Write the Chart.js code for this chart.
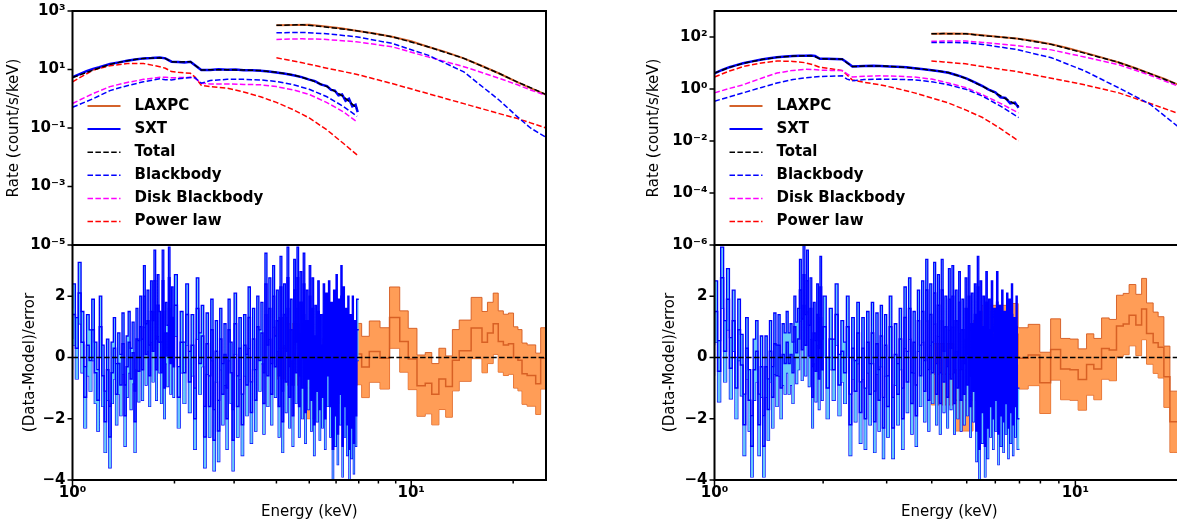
<!DOCTYPE html>
<html>
<head>
<meta charset="utf-8">
<script src="https://cdn.jsdelivr.net/npm/chart.js@4.4.1/dist/chart.umd.min.js"></script>
<style>
html, body { margin: 0; padding: 0; background: #fff; overflow: hidden; width: 1177px; height: 528px; }
canvas { position: absolute; }
</style>
</head>
<body>
<canvas id="leftTop" width="560" height="250" style="left:0px;top:0px"></canvas>
<canvas id="leftBottom" width="560" height="283" style="left:0px;top:245px"></canvas>
<canvas id="rightTop" width="560" height="250" style="left:640px;top:0px"></canvas>
<canvas id="rightBottom" width="560" height="283" style="left:640px;top:245px"></canvas>
<script>
// ---- tick positions ----
var xTicks = [1, 2, 3, 4, 5, 6, 7, 8, 9, 10, 20];
var leftRateTicks = [1e-5, 1e-3, 1e-1, 1e1, 1e3];
var rightRateTicks = [1e-6, 1e-4, 1e-2, 1e0, 1e2];
var residTicks = [-4, -2, 0, 2];

var legendLabels = ['LAXPC', 'SXT', 'Total', 'Blackbody', 'Disk Blackbody', 'Power law'];

// ---- left observation: spectra (keV, count/s/keV) ----
var lSxtE = [1.0, 1.05, 1.1, 1.15, 1.2, 1.29, 1.37, 1.45, 1.53, 1.62, 1.71, 1.81, 1.88, 1.96, 2.05, 2.14, 2.23, 2.30, 2.40, 2.55, 2.7, 2.86, 3.03, 3.2, 3.4, 3.59, 3.8, 4.0, 4.25, 4.49, 4.75, 5.0, 5.2, 5.4, 5.64, 5.8, 5.95, 6.1, 6.25, 6.4, 6.55, 6.7, 6.85, 6.95];
var lSxtRate = [5.5, 7.0, 8.8, 10.5, 12, 15.5, 17.5, 20, 22, 24, 24.5, 25.5, 24, 18.5, 18, 17.5, 18.5, 14, 9.6, 9.7, 10.2, 9.8, 10, 9.5, 9.4, 9.0, 8.6, 7.9, 7.2, 6.4, 5.5, 4.5, 4.0, 3.1, 2.7, 2.0, 1.9, 1.3, 1.4, 0.85, 1.0, 0.55, 0.62, 0.35];
var lSxtModelE = [1.0, 1.15, 1.29, 1.45, 1.62, 1.81, 1.88, 1.96, 2.05, 2.23, 2.30, 2.40, 2.55, 2.86, 3.2, 3.59, 4.0, 4.49, 5.0, 5.64, 6.3, 6.92];
var lSxtTotal = [5.3, 9.5, 15, 20, 24, 25, 24, 18.5, 18, 18.5, 14, 9.6, 9.8, 9.8, 9.6, 9.2, 8.0, 6.5, 4.6, 2.6, 1.2, 0.47];
var lSxtBB = [0.51, 1.0, 1.9, 2.8, 3.8, 4.8, 4.5, 4.4, 4.8, 5.3, 5.2, 3.4, 4.2, 4.6, 4.6, 4.4, 3.9, 3.0, 2.1, 1.17, 0.55, 0.25];
var lSxtDisk = [0.69, 1.5, 2.6, 3.6, 4.6, 5.4, 5.4, 5.2, 5.3, 5.4, 5.0, 3.4, 3.2, 3.2, 3.1, 3.0, 2.6, 2.0, 1.4, 0.74, 0.36, 0.16];
var lSxtPL = [3.8, 9.5, 13.5, 16, 16, 12.5, 11, 8.5, 8.0, 7.4, 5.5, 2.9, 2.6, 2.3, 1.7, 1.17, 0.75, 0.42, 0.22, 0.086, 0.03, 0.012];

var lLaxE = [4.0, 4.5, 5.0, 5.5, 6.2, 6.88, 7.8, 8.78, 10, 11.2, 12.6, 14.3, 16, 18.2, 20.5, 22.5, 25];
var lLaxRate = [325, 333, 338, 300, 255, 213, 170, 132, 92, 60, 40, 24, 14, 7.3, 3.8, 2.3, 1.4];
var lLaxModelE = [4.0, 4.77, 5.5, 6.88, 8.78, 11.2, 14.3, 18.2, 20.6, 22.5, 25];
var lLaxTotal = [325, 338, 290, 213, 132, 60, 24, 7.3, 3.7, 2.4, 1.4];
var lLaxBB = [180, 185, 170, 132, 78, 31, 8.3, 0.89, 0.24, 0.1, 0.048];
var lLaxDisk = [107, 112, 108, 89, 60, 27, 12.5, 5.0, 3.0, 2.0, 1.3];
var lLaxPL = [25, 17, 11.8, 6.9, 3.3, 1.5, 0.68, 0.31, 0.21, 0.15, 0.10];

// ---- right observation: spectra ----
var rSxtE = [1.0, 1.05, 1.1, 1.15, 1.2, 1.28, 1.35, 1.42, 1.49, 1.57, 1.65, 1.72, 1.78, 1.85, 1.90, 1.96, 2.05, 2.15, 2.26, 2.33, 2.41, 2.5, 2.6, 2.75, 2.88, 3.05, 3.2, 3.4, 3.58, 3.8, 4.0, 4.2, 4.45, 4.7, 5.0, 5.25, 5.53, 5.75, 6.0, 6.2, 6.4, 6.6, 6.8, 6.96];
var rSxtRate = [4.0, 5.4, 6.9, 8.3, 9.8, 11.8, 13.6, 15.2, 16.6, 17.6, 18.7, 19.2, 19.2, 19.5, 18.5, 14.6, 14.5, 14.2, 14.0, 10.5, 7.3, 7.5, 7.7, 7.8, 7.7, 7.4, 7.2, 6.8, 6.3, 5.8, 5.3, 4.8, 4.2, 3.4, 2.5, 1.85, 1.3, 0.95, 0.75, 0.48, 0.45, 0.28, 0.30, 0.19];
var rSxtModelE = [1.0, 1.1, 1.2, 1.35, 1.49, 1.65, 1.78, 1.88, 1.96, 2.1, 2.26, 2.33, 2.41, 2.6, 2.88, 3.2, 3.58, 4.0, 4.45, 5.0, 5.53, 6.2, 6.96];
var rSxtTotal = [4.1, 6.8, 9.7, 13.5, 16.5, 18.5, 19, 18.5, 14.5, 14.3, 14, 10, 7.3, 7.6, 7.7, 7.2, 6.3, 5.3, 4.3, 2.5, 1.26, 0.55, 0.22];
var rSxtBB = [0.34, 0.5, 0.71, 1.15, 1.7, 2.3, 2.7, 2.9, 3.0, 3.1, 3.2, 2.4, 2.1, 2.3, 2.4, 2.35, 2.25, 1.9, 1.45, 0.95, 0.53, 0.22, 0.08];
var rSxtDisk = [0.71, 1.05, 1.45, 2.6, 4.1, 5.2, 5.7, 5.6, 5.3, 5.2, 5.1, 3.8, 2.9, 3.1, 3.2, 3.1, 2.9, 2.4, 1.7, 1.1, 0.6, 0.28, 0.12];
var rSxtPL = [2.9, 4.9, 7.3, 10, 12, 11.5, 10.3, 8.5, 6.8, 6.0, 5.1, 3.5, 2.2, 1.8, 1.45, 1.05, 0.71, 0.45, 0.29, 0.15, 0.08, 0.03, 0.010];

var rLaxE = [3.99, 4.5, 5.0, 5.53, 6.2, 6.87, 7.7, 8.58, 9.5, 10.6, 11.8, 13.2, 14.7, 16.1, 17.6, 19.1, 20];
var rLaxRate = [134, 136, 133, 116, 100, 87, 70, 53, 38, 25, 16.5, 10.5, 6.3, 3.9, 2.5, 1.55, 1.3];
var rLaxModelE = [3.99, 4.31, 4.96, 5.53, 6.87, 8.58, 10.6, 13.2, 16.1, 19.1, 20];
var rLaxTotal = [134, 135, 133, 114, 87, 52, 24, 10.5, 3.9, 1.55, 1.3];
var rLaxBB = [61, 62, 60, 52, 33, 16, 5.0, 1.1, 0.26, 0.039, 0.025];
var rLaxDisk = [68, 70, 70, 62, 47, 32, 17, 8.5, 3.4, 1.35, 1.15];
var rLaxPL = [12, 11, 9.3, 7.3, 4.7, 2.6, 1.45, 0.71, 0.28, 0.12, 0.105];

// ---- residuals, (data-model)/error, error bars are +-1 ----
// SXT channel lower edges (keV), shared by both observations
var sxtE = [
  1.00, 1.02, 1.04, 1.06, 1.08, 1.10, 1.12, 1.14, 1.16, 1.18,
  1.20, 1.22, 1.24, 1.26, 1.28, 1.30, 1.32, 1.34, 1.36, 1.38,
  1.40, 1.42, 1.44, 1.46, 1.48, 1.50, 1.52, 1.54, 1.56, 1.58,
  1.60, 1.62, 1.64, 1.66, 1.68, 1.70, 1.72, 1.74, 1.76, 1.78,
  1.80, 1.82, 1.84, 1.86, 1.88, 1.90, 1.92, 1.94, 1.96, 1.98,
  2.00, 2.04, 2.08, 2.12, 2.16, 2.20, 2.24, 2.28, 2.32, 2.36,
  2.40, 2.44, 2.48, 2.52, 2.56, 2.60, 2.64, 2.68, 2.72, 2.76,
  2.80, 2.84, 2.88, 2.92, 2.96,
  3.00, 3.05, 3.10, 3.15, 3.20, 3.25, 3.30, 3.35, 3.40, 3.45,
  3.50, 3.55, 3.60, 3.65, 3.70, 3.75, 3.80, 3.85, 3.90, 3.95,
  4.00, 4.05, 4.10, 4.15, 4.20, 4.25, 4.30, 4.35, 4.40, 4.45,
  4.50, 4.55, 4.60, 4.65, 4.70, 4.75, 4.80, 4.85, 4.90, 4.95,
  5.00, 5.05, 5.10, 5.15, 5.20, 5.25, 5.30, 5.35, 5.40, 5.45,
  5.50, 5.55, 5.60, 5.65, 5.70, 5.75, 5.80, 5.85, 5.90, 5.95,
  6.00, 6.05, 6.10, 6.15, 6.20, 6.25, 6.30, 6.35, 6.40, 6.45,
  6.50, 6.55, 6.60, 6.65, 6.70, 6.75, 6.80, 6.85, 6.90, 6.95
];
var sxtEnd = 7.0;

var lSxtRes = [
  0.6, 1.4, 0.3, 2.1, 0.5, -1.3, 0.4, -0.1, 0.9, -0.5,
  -1.4, 1.0, -0.6, -2.1, -0.4, -2.6, -0.5, 0.3, -1.2, -0.2,
  -0.9, 0.45, -1.9, -0.3, 0.5, -0.7, 0.15, -2.1, 0.6, -0.45,
  1.0, -0.4, 2.0, 0.1, 1.2, -0.6, 1.5, 0.2, 2.5, -0.4,
  1.7, 0.5, -0.5, 2.5, -1.0, 0.8, 0.05, 2.6, -0.2, 1.3,
  -0.3, 1.7, -1.3, 0.5, -0.5, 1.4, -0.8, 0.4, -2.0, 1.6,
  -0.2, 0.7, -2.6, 0.45, -1.6, 0.9, -2.7, 0.2, -2.4, 0.6,
  -1.2, 0.1, -2.0, 0.9, -0.5,
  -2.7, 1.1, -1.6, 0.3, -2.2, 0.4, -0.9, 1.3, -1.8, 0.6,
  -1.4, 1.0, -0.1, 0.8, -1.5, 2.4, -0.6, 1.6, -1.2, 2.0,
  -0.3, 1.2, -1.6, 2.3, -2.1, 1.4, -0.8, 2.6, -1.3, 0.9,
  -1.9, 2.2, -0.5, 2.6, -1.6, 1.8, -1.0, 2.4, -1.8, 1.2,
  -0.7, 2.0, -1.4, 1.6, -2.2, 0.7, -1.1, 1.5, -1.7, 0.4,
  -1.3, 1.4, -2.0, 1.1, -0.6, 1.5, -1.6, 0.8, -3.0, 1.2,
  -1.9, 1.7, -2.5, 0.9, -1.2, 2.0, -2.9, 1.3, -1.6, 0.6,
  -2.2, 1.0, -3.0, 0.4, -2.3, 1.0, -2.8, 0.2, -1.9, 0.9
];
var rSxtRes = [
  0.4, 1.5, -0.45, 2.6, 0.2, 1.9, -0.35, 1.2, -1.0, 0.9,
  -0.25, -2.2, 0.3, -1.4, -2.9, -0.4, 0.2, -2.2, -0.3, -2.9,
  -0.3, -1.7, 0.2, -1.3, 0.45, -0.6, 0.4, -1.0, 0.1, -0.2,
  0.5, -0.2, 0.1, -0.5, 1.0, 0.15, 0.6, 2.2, 0.25, 2.7,
  0.4, 2.5, 0.05, 1.6, -1.3, 0.8, -0.45, 1.4, -0.7, 2.3,
  -0.4, 1.0, -1.0, 0.6, -0.4, 1.4, -0.9, 0.2, -0.5, 1.0,
  -2.2, 0.3, -1.1, 0.8, -1.8, 0.3, -2.0, 0.5, -1.2, 0.8,
  -2.1, 0.45, -1.4, 0.7, -2.3,
  0.4, -1.6, 1.0, -2.3, 0.1, -1.2, 0.6, -2.0, 1.3, -0.8,
  1.6, -1.5, 0.5, -1.9, 1.2, -0.6, 1.5, -1.1, 2.2, -1.4,
  1.4, -0.5, 2.1, -1.2, 1.7, -1.5, 2.2, -0.8, 1.0, -1.3,
  1.9, -0.7, 2.0, -1.5, 1.2, -1.0, 1.8, -1.4, 0.9, -1.2,
  1.6, -0.9, 2.0, -1.6, 1.1, -1.1, 1.4, -2.4, 2.3, -3.0,
  1.5, -1.8, 1.0, -2.9, 1.8, -2.3, 0.9, -1.6, 1.5, -2.0,
  0.6, -1.4, 1.8, -2.5, 0.7, -1.9, 1.2, -2.1, 0.5, -1.5,
  1.1, -2.3, 0.9, -1.8, 1.4, -2.2, 0.3, -1.6, 1.0, -2.0
];

// LAXPC bin edges and residuals
var lLaxEdges = [4.0, 4.3, 4.8, 5.2, 5.8, 6.4, 7.14, 7.52, 8.09, 8.63, 9.25, 9.80, 10.4, 11.0, 11.5, 12.07, 12.64, 13.23, 13.86, 15.03, 16.18, 16.79, 17.46, 18.07, 18.71, 19.37, 20.05, 20.66, 21.24, 21.99, 23.31, 24.11, 24.87, 25.6];
var lLaxRes = [1.0, 0.3, 0.1, -1.0, -0.4, 0.2, 0.11, -0.31, 0.19, -0.03, 1.3, 0.52, -0.05, -0.92, -0.84, -1.2, -0.7, -0.95, -0.09, 0.22, 0.96, 0.5, 0.8, 1.1, 0.52, 0.41, 0.45, 0.0, -0.09, -0.53, -0.59, -0.86, -0.03];
var rLaxEdges = [3.99, 4.6, 5.2, 5.5, 6.45, 6.94, 7.40, 7.97, 8.54, 9.10, 9.66, 10.18, 10.74, 11.25, 11.82, 12.41, 13.0, 13.57, 14.09, 14.71, 15.26, 15.75, 16.43, 16.96, 17.59, 18.28, 18.75, 20.5];
var rLaxRes = [-0.45, -0.55, -1.4, 0.2, 0.7, 0.76, -0.03, 0.08, -0.83, 0.26, -0.38, -0.4, -0.72, -0.23, -0.38, 0.29, 0.24, 1.03, 1.09, 1.38, 1.06, 1.58, 0.78, 0.48, 0.33, -0.63, -2.1];

// ---- styling ----
var FONT = 'DejaVu Sans';
var DASH = [5.5, 2.4];
var ORANGE_LINE = '#d4622b';
var ORANGE_EDGE = 'rgba(212, 90, 32, 0.9)';
var ORANGE_FILL = 'rgba(255, 140, 58, 0.85)';
var SXT_EDGE = '#0000ff';
var SXT_FILL = 'rgba(105, 200, 250, 1)';

var legendStyles = [
    {color: ORANGE_LINE, dash: [], width: 2},
    {color: '#0000ff', dash: [], width: 2},
    {color: '#000000', dash: DASH, width: 1.5},
    {color: '#0000ff', dash: DASH, width: 1.5},
    {color: '#ff00ff', dash: DASH, width: 1.5},
    {color: '#ff0000', dash: DASH, width: 1.5}
];

Chart.defaults.font.family = FONT;
Chart.defaults.color = '#000';

var SUP = {'0': '\u2070', '1': '\u00b9', '2': '\u00b2', '3': '\u00b3', '4': '\u2074',
    '5': '\u2075', '6': '\u2076', '7': '\u2077', '8': '\u2078', '9': '\u2079', '-': '\u207b'};

var isPow10 = function(v) {
    var e = Math.log10(v);
    return Math.abs(e - Math.round(e)) < 1e-9;
};

var powLabel = function(v) {
    var e = String(Math.round(Math.log10(v)));
    return '10' + e.split('').map(function(c) { return SUP[c]; }).join('');
};

var xy = function(xs, ys) {
    return xs.map(function(x, i) { return {x: x, y: ys[i]}; });
};

// step points: each edge carries the value of the bin that starts there
var steps = function(edges, vals, off) {
    return edges.map(function(e, i) {
        return {x: e, y: vals[Math.min(i, vals.length - 1)] + off};
    });
};

var line = function(data, color, width, dash, extra) {
    var ds = {
        data: data,
        borderColor: color,
        borderWidth: width,
        borderDash: dash || [],
        pointRadius: 0,
        tension: 0,
        fill: false
    };
    return Object.assign(ds, extra || {});
};

var framePlugin = function(cfg) {
    return {
        id: 'frame',
        afterDatasetsDraw: function(chart) {
            if (!cfg.zero) {
                return;
            }
            var ctx = chart.ctx, a = chart.chartArea;
            var y0 = chart.scales.y.getPixelForValue(0);
            ctx.save();
            ctx.strokeStyle = '#000';
            ctx.lineWidth = 1.5;
            ctx.setLineDash(DASH);
            ctx.beginPath();
            ctx.moveTo(a.left, y0);
            ctx.lineTo(a.right, y0);
            ctx.stroke();
            ctx.restore();
        },
        afterDraw: function(chart) {
            var ctx = chart.ctx, a = chart.chartArea;
            var sx = chart.scales.x, sy = chart.scales.y;
            ctx.save();
            ctx.strokeStyle = '#000';
            ctx.lineWidth = 1.5;
            ctx.beginPath();
            sy.ticks.forEach(function(t) {
                var p = sy.getPixelForValue(t.value);
                ctx.moveTo(a.left - 5, p);
                ctx.lineTo(a.left, p);
            });
            if (sx.options.display) {
                sx.ticks.forEach(function(t) {
                    var p = sx.getPixelForValue(t.value);
                    var len = isPow10(t.value) ? 6 : 3.5;
                    ctx.moveTo(p, a.bottom);
                    ctx.lineTo(p, a.bottom + len);
                });
            }
            ctx.stroke();
            ctx.lineWidth = 2;
            ctx.strokeRect(a.left, a.top, a.right - a.left, a.bottom - a.top);

            // legend inside the spectrum panel
            if (cfg.legend) {
                ctx.font = 'bold 15px "' + FONT + '"';
                ctx.textBaseline = 'middle';
                ctx.fillStyle = '#000';
                legendLabels.forEach(function(label, i) {
                    var st = legendStyles[i];
                    var y = a.top + 95 + i * 23.1;
                    ctx.strokeStyle = st.color;
                    ctx.lineWidth = st.width;
                    ctx.setLineDash(st.dash);
                    ctx.beginPath();
                    ctx.moveTo(a.left + 15, y);
                    ctx.lineTo(a.left + 48, y);
                    ctx.stroke();
                    ctx.setLineDash([]);
                    ctx.fillText(label, a.left + 62, y);
                });
            }
            ctx.restore();
        }
    };
};

var xScale = function(xMax, show) {
    return {
        type: 'logarithmic',
        display: show,
        min: 1,
        max: xMax,
        afterBuildTicks: function(s) {
            s.ticks = xTicks.filter(function(v) { return v <= xMax; })
                .map(function(v) { return {value: v, major: isPow10(v)}; });
        },
        ticks: {
            autoSkip: false,
            maxRotation: 0,
            padding: 0,
            font: {family: FONT, size: 15, weight: 'bold'},
            color: '#000',
            callback: function(v) { return isPow10(v) ? powLabel(v) : ''; }
        },
        grid: {display: false, drawTicks: true, tickLength: 4},
        border: {display: false},
        title: {
            display: show,
            text: 'Energy (keV)',
            font: {family: FONT, size: 15},
            color: '#000',
            padding: {top: 0, bottom: 7}
        },
        afterFit: function(s) {
            s.height = show ? 48 : 0;
            s.paddingLeft = 0;
            s.paddingRight = 0;
        }
    };
};

var yFit = function(width) {
    return function(s) {
        s.width = width;
        s.paddingTop = 0;
        s.paddingBottom = 0;
    };
};

var makeTop = function(id, o) {
    return new Chart(document.getElementById(id), {
        type: 'line',
        data: {datasets: o.datasets},
        options: {
            responsive: false,
            animation: false,
            devicePixelRatio: 1,
            layout: {padding: {left: 0, right: o.padRight, top: 11, bottom: 5}},
            plugins: {legend: {display: false}, tooltip: {enabled: false}},
            scales: {
                x: xScale(o.xMax, false),
                y: {
                    type: 'logarithmic',
                    min: o.yMin,
                    max: o.yMax,
                    afterBuildTicks: function(s) {
                        s.ticks = o.yTicks.map(function(v) { return {value: v}; });
                    },
                    ticks: {
                        autoSkip: false,
                        padding: 2,
                        font: {family: FONT, size: 15, weight: 'bold'},
                        color: '#000',
                        callback: function(v) { return powLabel(v); }
                    },
                    grid: {display: false, drawTicks: true, tickLength: 5},
                    border: {display: false},
                    title: {
                        display: true,
                        text: 'Rate (count/s/keV)',
                        font: {family: FONT, size: 15},
                        color: '#000',
                        padding: {top: 5.5, bottom: 0}
                    },
                    afterFit: yFit(o.axisWidth)
                }
            }
        },
        plugins: [framePlugin({legend: true})]
    });
};

var makeBottom = function(id, o) {
    return new Chart(document.getElementById(id), {
        type: 'line',
        data: {datasets: o.datasets},
        options: {
            responsive: false,
            animation: false,
            devicePixelRatio: 1,
            layout: {padding: {left: 0, right: o.padRight, top: 0, bottom: 0}},
            plugins: {legend: {display: false}, tooltip: {enabled: false}},
            scales: {
                x: xScale(o.xMax, true),
                y: {
                    type: 'linear',
                    min: -4,
                    max: 3.67,
                    afterBuildTicks: function(s) {
                        s.ticks = residTicks.map(function(v) { return {value: v}; });
                    },
                    ticks: {
                        autoSkip: false,
                        padding: 2,
                        font: {family: FONT, size: 15, weight: 'bold'},
                        color: '#000',
                        callback: function(v) { return v < 0 ? '\u2212' + Math.abs(v) : String(v); }
                    },
                    grid: {display: false, drawTicks: true, tickLength: 5},
                    border: {display: false},
                    title: {
                        display: true,
                        text: '(Data-Model)/error',
                        font: {family: FONT, size: 15},
                        color: '#000',
                        padding: {top: 21, bottom: 0}
                    },
                    afterFit: yFit(o.axisWidth)
                }
            }
        },
        plugins: [framePlugin({zero: true})]
    });
};

var topSets = function(s) {
    // first dataset is drawn on top
    return [
        line(xy(s.sxtModelE, s.sxtTotal), '#000000', 1.5, DASH),
        line(xy(s.laxModelE, s.laxTotal), '#000000', 1.5, DASH),
        line(xy(s.sxtModelE, s.sxtBB), '#0000ff', 1.5, DASH),
        line(xy(s.laxModelE, s.laxBB), '#0000ff', 1.5, DASH),
        line(xy(s.sxtModelE, s.sxtDisk), '#ff00ff', 1.5, DASH),
        line(xy(s.laxModelE, s.laxDisk), '#ff00ff', 1.5, DASH),
        line(xy(s.sxtModelE, s.sxtPL), '#ff0000', 1.5, DASH),
        line(xy(s.laxModelE, s.laxPL), '#ff0000', 1.5, DASH),
        line(xy(s.sxtE, s.sxtRate), '#0000ff', 2.5),
        line(xy(s.laxE, s.laxRate), ORANGE_LINE, 2)
    ];
};

var bottomSets = function(sxtRes, laxEdges, laxRes) {
    var sxtEdges = sxtE.concat([sxtEnd]);
    return [
        line(steps(sxtEdges, sxtRes, 0), '#0000ff', 1.5, null, {stepped: 'after'}),
        line(steps(sxtEdges, sxtRes, 1), SXT_EDGE, 1.3, null,
            {stepped: 'after', fill: '+1', backgroundColor: SXT_FILL}),
        line(steps(sxtEdges, sxtRes, -1), SXT_EDGE, 1.3, null, {stepped: 'after'}),
        line(steps(laxEdges, laxRes, 0), ORANGE_EDGE, 1.5, null, {stepped: 'after'}),
        line(steps(laxEdges, laxRes, 1), ORANGE_EDGE, 1, null,
            {stepped: 'after', fill: '+1', backgroundColor: ORANGE_FILL}),
        line(steps(laxEdges, laxRes, -1), ORANGE_EDGE, 1, null, {stepped: 'after'})
    ];
};

makeTop('leftTop', {
    xMax: 25, yMin: 1e-5, yMax: 1e3, yTicks: leftRateTicks, axisWidth: 72.5, padRight: 14,
    datasets: topSets({
        sxtE: lSxtE, sxtRate: lSxtRate, sxtModelE: lSxtModelE, sxtTotal: lSxtTotal,
        sxtBB: lSxtBB, sxtDisk: lSxtDisk, sxtPL: lSxtPL,
        laxE: lLaxE, laxRate: lLaxRate, laxModelE: lLaxModelE, laxTotal: lLaxTotal,
        laxBB: lLaxBB, laxDisk: lLaxDisk, laxPL: lLaxPL
    })
});

makeBottom('leftBottom', {
    xMax: 25, axisWidth: 72.5, padRight: 14,
    datasets: bottomSets(lSxtRes, lLaxEdges, lLaxRes)
});

makeTop('rightTop', {
    xMax: 20, yMin: 1e-6, yMax: 1e3, yTicks: rightRateTicks, axisWidth: 74.5, padRight: 16,
    datasets: topSets({
        sxtE: rSxtE, sxtRate: rSxtRate, sxtModelE: rSxtModelE, sxtTotal: rSxtTotal,
        sxtBB: rSxtBB, sxtDisk: rSxtDisk, sxtPL: rSxtPL,
        laxE: rLaxE, laxRate: rLaxRate, laxModelE: rLaxModelE, laxTotal: rLaxTotal,
        laxBB: rLaxBB, laxDisk: rLaxDisk, laxPL: rLaxPL
    })
});

makeBottom('rightBottom', {
    xMax: 20, axisWidth: 74.5, padRight: 16,
    datasets: bottomSets(rSxtRes, rLaxEdges, rLaxRes)
});
</script>
</body>
</html>
